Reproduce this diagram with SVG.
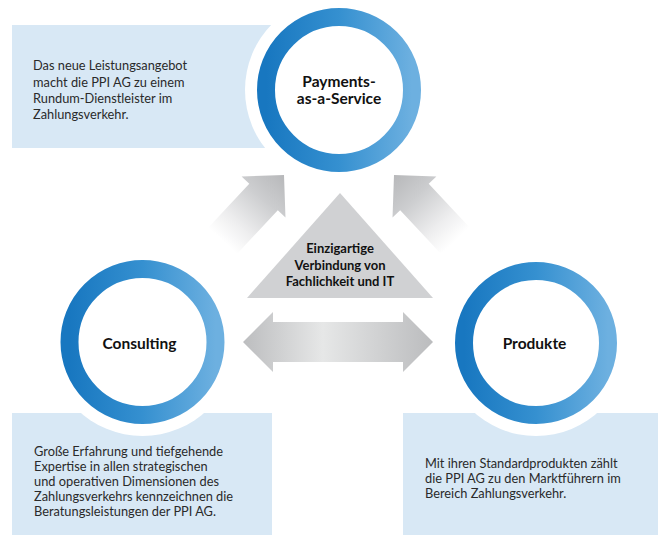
<svg xmlns="http://www.w3.org/2000/svg" xmlns:xlink="http://www.w3.org/1999/xlink" width="658" height="537" viewBox="0 0 658 537">
<style>
.box{fill:#d8e8f5}
.halo{fill:#ffffff}
.ring{fill:#ffffff;stroke:url(#ringGrad);stroke-width:18}
.body{font-family:Lato,"Liberation Sans",sans-serif;font-size:12.8px;fill:#2a2a2a}
.label{font-family:Lato,"Liberation Sans",sans-serif;font-size:15.5px;font-weight:bold;fill:#111111;text-anchor:middle}
.tri{font-family:Lato,"Liberation Sans",sans-serif;font-size:13px;font-weight:bold;fill:#111111;text-anchor:middle}
</style>
<defs>
<linearGradient id="ringGrad" x1="0" y1="0" x2="1" y2="0">
<stop offset="0" stop-color="#1877c0"/>
<stop offset="0.5" stop-color="#3590d0"/>
<stop offset="1" stop-color="#6db0e0"/>
</linearGradient>
<linearGradient id="diagGrad" gradientUnits="userSpaceOnUse" x1="-90" y1="0" x2="0" y2="0">
<stop offset="0" stop-color="#ffffff"/>
<stop offset="0.25" stop-color="#eeeeef"/>
<stop offset="0.65" stop-color="#cccdcf"/>
<stop offset="1" stop-color="#b7b8ba"/>
</linearGradient>
<linearGradient id="hGrad" gradientUnits="userSpaceOnUse" x1="243" y1="0" x2="433" y2="0">
<stop offset="0" stop-color="#bcbdbf"/>
<stop offset="0.42" stop-color="#e6e7e7"/>
<stop offset="1" stop-color="#bbbcbe"/>
</linearGradient>
<path id="diagArrow" d="M0,0 L-30,-30 L-30,-19.5 L-90,-19.5 L-90,19.5 L-30,19.5 L-30,30 Z" fill="url(#diagGrad)"/>
</defs>

<g id="box-payments">
<rect class="box" x="12" y="25" width="327" height="123"/>
</g>
<g id="box-consulting">
<rect class="box" x="12" y="413" width="260" height="122"/>
</g>
<g id="box-produkte">
<rect class="box" x="403" y="413" width="255" height="122"/>
</g>

<circle class="halo" cx="339" cy="90" r="94"/>
<circle class="halo" cx="142.5" cy="342" r="94"/>
<circle class="halo" cx="536" cy="343" r="93"/>

<g id="connectors">
<use xlink:href="#diagArrow" href="#diagArrow" transform="translate(284,175) rotate(-47)"/>
<use xlink:href="#diagArrow" href="#diagArrow" transform="translate(678,0) scale(-1,1) translate(284,175) rotate(-47)"/>
<path d="M243,342 L273,312 L273,322 L403,322 L403,312 L433,342 L403,372 L403,362 L273,362 L273,372 Z" fill="url(#hGrad)"/>
</g>

<g id="node-center">
<polygon points="340,193 433,298 247,298" fill="#d0d1d3"/>
<text class="tri" x="340" y="253">Einzigartige</text>
<text class="tri" x="340" y="270">Verbindung von</text>
<text class="tri" x="340" y="286">Fachlichkeit und IT</text>
</g>

<g id="node-payments">
<circle class="ring" cx="339" cy="90" r="73"/>
<text class="label" x="339" y="87">Payments-</text>
<text class="label" x="339" y="104">as-a-Service</text>
</g>
<g id="node-consulting">
<circle class="ring" cx="142.5" cy="342" r="73"/>
<text class="label" x="139.5" y="348.5">Consulting</text>
</g>
<g id="node-produkte">
<circle class="ring" cx="536" cy="343" r="72"/>
<text class="label" x="534.5" y="348.5">Produkte</text>
</g>

<g id="text-payments">
<text class="body" x="33" y="70">Das neue Leistungsangebot</text>
<text class="body" x="33" y="86.5">macht die PPI AG zu einem</text>
<text class="body" x="33" y="103">Rundum-Dienstleister im</text>
<text class="body" x="33" y="119">Zahlungsverkehr.</text>
</g>
<g id="text-consulting">
<text class="body" x="34" y="455.5">Große Erfahrung und tiefgehende</text>
<text class="body" x="34" y="470.5">Expertise in allen strategischen</text>
<text class="body" x="34" y="485.5">und operativen Dimensionen des</text>
<text class="body" x="34" y="500.5">Zahlungsverkehrs kennzeichnen die</text>
<text class="body" x="34" y="515.5">Beratungsleistungen der PPI AG.</text>
</g>
<g id="text-produkte">
<text class="body" x="425" y="468">Mit ihren Standardprodukten zählt</text>
<text class="body" x="425" y="483">die PPI AG zu den Marktführern im</text>
<text class="body" x="425" y="498">Bereich Zahlungsverkehr.</text>
</g>
</svg>
